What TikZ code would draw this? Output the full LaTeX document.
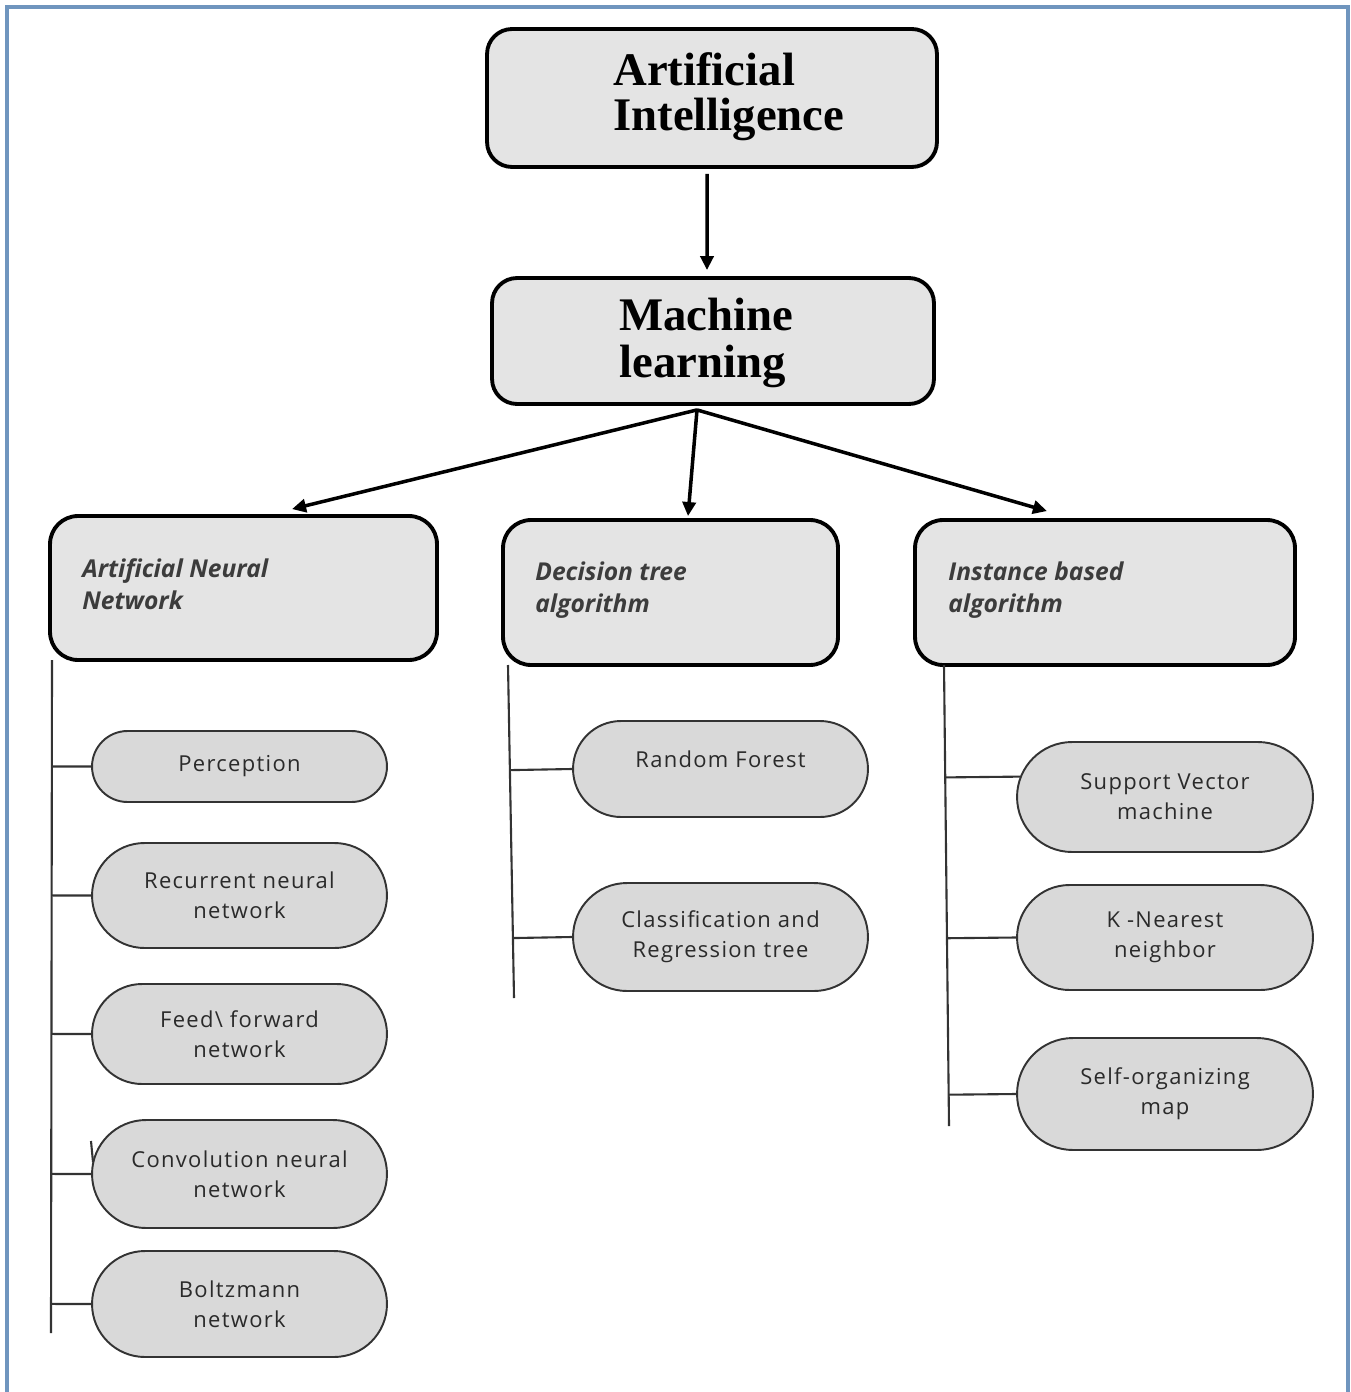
\documentclass[tikz,border=0pt]{standalone}
\usepackage{fontspec}
\setmainfont{Liberation Serif}
\setsansfont{Open Sans}
\newfontfamily\leaffont[LetterSpace=6]{Open Sans}
\usetikzlibrary{shapes.misc,arrows.meta,calc}
\definecolor{frameblue}{HTML}{6F95BE}
\definecolor{boxfill}{HTML}{E4E4E4}
\definecolor{leaffill}{HTML}{D9D9D9}
\definecolor{txtgray}{HTML}{3C3C3C}
\definecolor{leaftxt}{HTML}{2A2A2A}
\definecolor{linegray}{HTML}{333333}
\begin{document}
\begin{tikzpicture}[x=0.02cm,y=-0.02cm,
  bigbox/.style={draw=black,line width=2.2pt,fill=boxfill,rounded corners=0.5cm,inner sep=0},
  catbox/.style={draw=black,line width=2.2pt,fill=boxfill,rounded corners=0.56cm,inner sep=0},
  title/.style={font=\bfseries\fontsize{26.6}{26}\selectfont,anchor=base west,inner sep=0,text height=18pt,text depth=4.5pt},
  cat/.style={font=\sffamily\bfseries\itshape\fontsize{14}{16}\selectfont,text=txtgray,anchor=base west,inner sep=0},
  leaf/.style={rounded rectangle,draw=linegray,line width=1.1pt,fill=leaffill,minimum width=5.9cm,inner sep=0,align=center,font=\leaffont\fontsize{12.5}{17}\selectfont,text=leaftxt},
  arr/.style={line width=2pt,-{Triangle[length=8pt,width=7.5pt]}},
  trunk/.style={draw=linegray,line width=1.2pt}]
\useasboundingbox (0,0) rectangle (1351,1392);
% frame
\draw[frameblue,line width=1.8pt] (7,1392) -- (7,7) -- (1348,7) -- (1348,1392);
% top boxes
\node[bigbox,minimum width=9cm,minimum height=2.76cm] (ai) at (712,98) {};
\node[title] (ait1) at (613,86) {Artificial};
\node[title] (ait2) at (613,131) {Intelligence};
\node[bigbox,minimum width=8.84cm,minimum height=2.52cm] (ml) at (713,341) {};
\node[title] (mlt1) at (619,330) {Machine};
\node[title] (mlt2) at (619,377) {learning};
% category boxes
\node[catbox,minimum width=7.74cm,minimum height=2.88cm] (ann) at (243.5,588) {};
\node[cat] (annt1) at (82,577) {Artificial Neural};
\node[cat] (annt2) at (82,609) {Network};
\node[catbox,minimum width=6.7cm,minimum height=2.9cm] (dt) at (670.5,592.5) {};
\node[cat] (dtt1) at (535,580) {Decision tree};
\node[cat] (dtt2) at (535,612) {algorithm};
\node[catbox,minimum width=7.6cm,minimum height=2.9cm] (ib) at (1105,592.5) {};
\node[cat] (ibt1) at (948,580) {Instance based};
\node[cat] (ibt2) at (948,612) {algorithm};
% leaves
\node[leaf,minimum height=1.42cm] (perc) at (239.5,766.5) {Perception};
\node[leaf,minimum height=2.1cm] (rnn) at (239.5,895.5) {Recurrent neural\\network};
\node[leaf,minimum height=2.0cm] (ff) at (239.5,1034) {Feed\textbackslash{} forward\\network};
\node[leaf,minimum height=2.16cm] (cnn) at (239.5,1174) {Convolution neural\\network};
\node[leaf,minimum height=2.12cm] (boltz) at (239.5,1304) {Boltzmann\\network};
\node[leaf,minimum height=1.92cm] (rf) at (720.5,769) {\raisebox{5.5pt}[\height][\depth]{Random Forest}};
\node[leaf,minimum height=2.16cm] (cart) at (720.5,937) {Classification and\\Regression tree};
\node[leaf,minimum width=5.92cm,minimum height=2.2cm] (svm) at (1165,797) {Support Vector\\machine};
\node[leaf,minimum width=5.92cm,minimum height=2.1cm] (knn) at (1165,937.5) {K -Nearest\\neighbor};
\node[leaf,minimum width=5.92cm,minimum height=2.24cm] (som) at (1165,1094) {Self-organizing\\map};
% arrows
\draw[arr] ([xshift=-0.1cm,yshift=-0.1cm]ai.south) -- ([xshift=-0.12cm,yshift=0.12cm]ml.north);
\draw[arr] ([xshift=-0.32cm,yshift=-0.08cm]ml.south) -- ([xshift=0.97cm,yshift=0.1cm]ann.north);
\draw[arr] ([xshift=-0.32cm,yshift=-0.08cm]ml.south) -- ([xshift=0.35cm,yshift=0.04cm]dt.north);
\draw[arr] ([xshift=-0.32cm,yshift=-0.08cm]ml.south) -- ([xshift=-1.16cm,yshift=0.14cm]ib.north);
% trunks
\coordinate (t1a) at (52,660);
\coordinate (t1b) at (51,1333);
\draw[trunk] (t1a) -- (t1b);
\foreach \n in {perc,rnn,ff,cnn,boltz}
  \draw[trunk] ($(t1a)!(\n.west)!(t1b)$) -- (\n.west);
\draw[trunk] (91,1141) -- (93,1162);
\coordinate (t2a) at (508,665);
\coordinate (t2b) at (514,998);
\draw[trunk] (t2a) -- (t2b);
\foreach \n in {rf,cart}
  \draw[trunk] ($(t2a)!(\n.west)!(t2b)$) -- (\n.west);
\coordinate (t3a) at (944,665);
\coordinate (t3b) at (949,1126);
\draw[trunk] (t3a) -- (t3b);
\draw[trunk] ($(t3a)!(svm.172)!(t3b)$) -- (svm.172);
\foreach \n in {knn,som}
  \draw[trunk] ($(t3a)!(\n.west)!(t3b)$) -- (\n.west);
\end{tikzpicture}
\end{document}
